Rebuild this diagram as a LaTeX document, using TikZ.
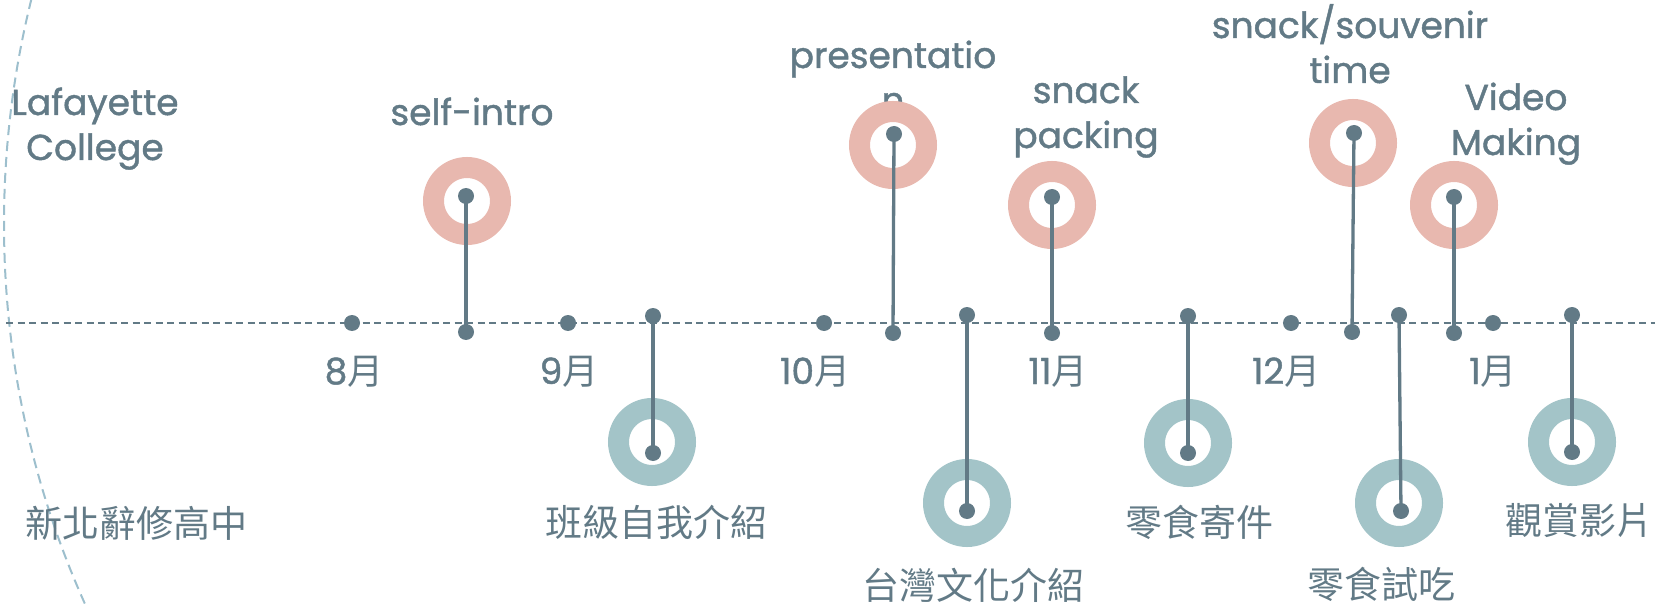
\documentclass[tikz,border=0pt]{standalone}
\usepackage{fontspec}
\setmainfont{Poppins}[FakeBold=1.2]
\newfontfamily\cjk{Noto Sans CJK TC}
\definecolor{slate}{HTML}{627A86}
\definecolor{pinkring}{HTML}{E8B8AF}
\definecolor{tealring}{HTML}{A3C4C8}
\definecolor{arcblue}{HTML}{9DBFCD}
\begin{document}
\begin{tikzpicture}[x=1pt,y=-1pt,
  ringp/.style={circle, draw=pinkring, line width=21pt, minimum size=67pt, inner sep=0pt},
  ringt/.style={circle, draw=tealring, line width=21pt, minimum size=67pt, inner sep=0pt},
  pin/.style={circle, fill=slate, inner sep=0pt, minimum size=16pt},
  stem/.style={draw=slate, line width=3.3pt},
  lbl/.style={text=slate, font=\fontsize{36}{45}\selectfont, align=center, inner sep=0pt, anchor=base},
  cjklbl/.style={text=slate, font=\cjk\fontsize{37}{45}\selectfont, inner sep=0pt},
  month/.style={text=slate, font=\fontsize{36}{45}\selectfont, inner sep=0pt, anchor=base}
]
\useasboundingbox (0,0) rectangle (1655,604);
\clip (0,0) rectangle (1655,604);
% left arc
\draw[arcblue, line width=2pt, dash pattern=on 10pt off 6pt] (933,224) circle[radius=929];
% timeline
\coordinate (tl0) at (6,323);
\coordinate (tl1) at (1655,323);
\draw[slate, line width=2pt, dash pattern=on 7pt off 4.5pt] (tl0) -- (tl1);

% month dots and labels
\node[pin] (d8) at (352,323) {};
\node[pin] (d9) at (568,323) {};
\node[pin] (d10) at (824,323) {};
\node[pin] (d12) at (1291,323) {};
\node[pin] (d1) at (1493,323) {};
\node[month] (l8) at (354,384) {8{\cjk 月}};
\node[month] (l9) at (569,384) {9{\cjk 月}};
\node[month] (l10) at (815,384) {10{\cjk 月}};
\node[month] (l11) at (1058,384) {11{\cjk 月}};
\node[month] (l12) at (1286,384) {12{\cjk 月}};
\node[month] (l1) at (1493,384) {1{\cjk 月}};

% text labels (anchor = baseline of the last line)
\node[lbl] (tLaf) at (95,160) {Lafayette\\College};
\node[lbl] (tSelf) at (472,125) {self-intro};
\node[lbl] (tPres) at (893,113) {presentatio\\n};
\node[lbl] (tPack) at (1086,148) {snack\\packing};
\node[lbl] (tSouv) at (1350,83) {snack/souvenir\\time};
\node[lbl] (tVid) at (1516,155) {Video\\Making};
\node[cjklbl] (cSch) at (136,523) {新北辭修高中};
\node[cjklbl] (cCls) at (656,522) {班級自我介紹};
\node[cjklbl] (cTw) at (973,585) {台灣文化介紹};
\node[cjklbl] (cSend) at (1199,522) {零食寄件};
\node[cjklbl] (cTaste) at (1381,584) {零食試吃};
\node[cjklbl] (cVid) at (1579,521) {觀賞影片};

% rings
\node[ringp] (rSelf) at (467,201) {};
\node[ringp] (rPres) at (893,145) {};
\node[ringp] (rPack) at (1052,205) {};
\node[ringp] (rSouv) at (1353,143) {};
\node[ringp] (rVid) at (1454,205) {};
\node[ringt] (rCls) at (652,442) {};
\node[ringt] (rTw) at (967,503) {};
\node[ringt] (rSend) at (1188,443) {};
\node[ringt] (rTaste) at (1399,503) {};
\node[ringt] (rWatch) at (1572,442) {};

% pins (above the line)
\node[pin] (aSelf) at (466,196) {};
\node[pin] (bSelf) at (466,332) {};
\node[pin] (aPres) at (894,134) {};
\node[pin] (bPres) at (893,333) {};
\node[pin] (aPack) at (1052,197) {};
\node[pin] (bPack) at (1052,333) {};
\node[pin] (aSouv) at (1354,133) {};
\node[pin] (bSouv) at (1352,332) {};
\node[pin] (aVid) at (1454,197) {};
\node[pin] (bVid) at (1454,333) {};
% pins (below the line)
\node[pin] (aCls) at (653,316) {};
\node[pin] (bCls) at (653,453) {};
\node[pin] (aTw) at (967,315) {};
\node[pin] (bTw) at (967,511) {};
\node[pin] (aSend) at (1188,316) {};
\node[pin] (bSend) at (1188,453) {};
\node[pin] (aTaste) at (1399,315) {};
\node[pin] (bTaste) at (1401,511) {};
\node[pin] (aWatch) at (1572,315) {};
\node[pin] (bWatch) at (1572,452) {};

\foreach \e in {Self,Pres,Pack,Souv,Vid,Cls,Tw,Send,Taste,Watch}
  \draw[stem] (a\e.center) -- (b\e.center);
\end{tikzpicture}
\end{document}
